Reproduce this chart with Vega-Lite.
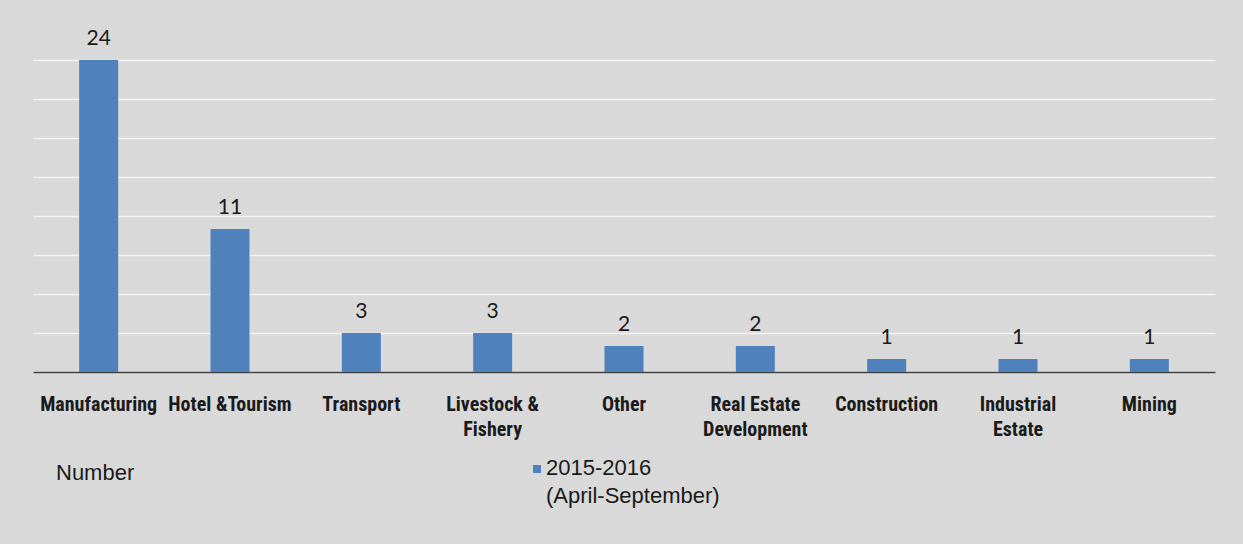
{
  "$schema": "https://vega.github.io/schema/vega-lite/v6.json",
  "width": 1182,
  "height": 312,
  "autosize": {"type": "none"},
  "padding": {"left": 33, "top": 60, "right": 28, "bottom": 172},
  "background": "#d9d9d9",
  "data": {
    "values": [
      {"sector": "Manufacturing", "count": 24, "period": "2015-2016 (April-September)"},
      {"sector": "Hotel &Tourism", "count": 11, "period": "2015-2016 (April-September)"},
      {"sector": "Transport", "count": 3, "period": "2015-2016 (April-September)"},
      {"sector": "Livestock & Fishery", "count": 3, "period": "2015-2016 (April-September)"},
      {"sector": "Other", "count": 2, "period": "2015-2016 (April-September)"},
      {"sector": "Real Estate Development", "count": 2, "period": "2015-2016 (April-September)"},
      {"sector": "Construction", "count": 1, "period": "2015-2016 (April-September)"},
      {"sector": "Industrial Estate", "count": 1, "period": "2015-2016 (April-September)"},
      {"sector": "Mining", "count": 1, "period": "2015-2016 (April-September)"}
    ]
  },
  "encoding": {
    "x": {
      "field": "sector",
      "type": "nominal",
      "sort": null,
      "scale": {"paddingInner": 0, "paddingOuter": 0},
      "axis": {
        "title": null,
        "labelAngle": 0,
        "labelFont": "Liberation Sans Narrow, Arial Narrow, Roboto Condensed, Liberation Sans",
        "labelFontWeight": "bold",
        "labelFontSize": 20,
        "labelColor": "#1a1a1a",
        "labelLineHeight": 25,
        "labelPadding": 22,
        "labelBaseline": "top",
        "ticks": false,
        "domain": true,
        "domainColor": "#404040",
        "domainWidth": 1.5,
        "labelExpr": "datum.value == 'Livestock & Fishery' ? ['Livestock &', 'Fishery'] : datum.value == 'Real Estate Development' ? ['Real Estate', 'Development'] : datum.value == 'Industrial Estate' ? ['Industrial', 'Estate'] : datum.value"
      }
    },
    "y": {
      "field": "count",
      "type": "quantitative",
      "scale": {"domain": [0, 24]},
      "axis": {
        "title": null,
        "labels": false,
        "ticks": false,
        "domain": false,
        "values": [0, 3, 6, 9, 12, 15, 18, 21, 24],
        "gridColor": "#f4f4f4",
        "gridWidth": 1.5,
        "gridOpacity": 1
      }
    }
  },
  "layer": [
    {
      "mark": {"type": "bar", "size": 39},
      "encoding": {
        "color": {
          "field": "period",
          "type": "nominal",
          "scale": {"range": ["#4f81bd"]},
          "legend": {
            "orient": "none",
            "legendX": 23,
            "legendY": 398,
            "title": "Number",
            "titleOrient": "left",
            "titleAnchor": "start",
            "titlePadding": 391,
            "titleFont": "Liberation Sans",
            "titleFontWeight": "normal",
            "titleFontSize": 22,
            "titleColor": "#1a1a1a",
            "titleBaseline": "top",
            "symbolType": "square",
            "symbolSize": 64,
            "symbolStrokeWidth": 0,
            "labelFont": "Liberation Sans",
            "labelFontSize": 22,
            "labelColor": "#1a1a1a",
            "labelBaseline": "top",
            "labelOffset": -2,
            "labelLimit": 400,
            "labelExpr": "['2015-2016', '(April-September)']",
            "encode": {
              "labels": {"update": {"lineHeight": {"value": 28}, "dy": {"value": -11}}},
              "title": {"update": {"dy": {"value": 5}}}
            }
          }
        }
      }
    },
    {
      "mark": {"type": "text", "baseline": "alphabetic", "dy": -15, "font": "Lato", "fontSize": 21, "color": "#1a1a1a"},
      "encoding": {"text": {"field": "count", "type": "quantitative"}}
    }
  ],
  "config": {"view": {"stroke": null}}
}
